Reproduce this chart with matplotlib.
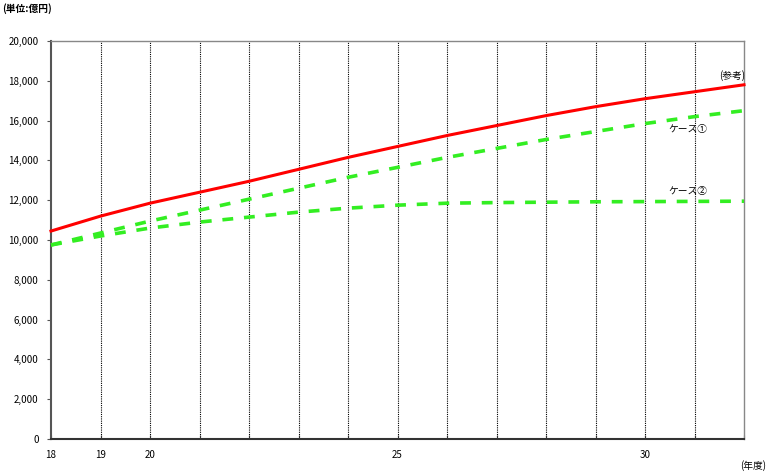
import matplotlib
matplotlib.use("Agg")
import matplotlib.pyplot as plt
from matplotlib.ticker import FuncFormatter, FixedLocator

plt.rcParams['font.family'] = ['Noto Sans CJK JP', 'DejaVu Sans']

years = list(range(18, 33))
reference = [10450, 11200, 11850, 12400, 12950, 13550, 14150, 14700, 15250,
             15750, 16250, 16700, 17100, 17450, 17800]
case1 = [9750, 10350, 10950, 11500, 12050, 12600, 13150, 13650, 14150,
         14600, 15050, 15450, 15850, 16200, 16500]
case2 = [9750, 10200, 10600, 10900, 11150, 11400, 11600, 11750, 11850,
         11880, 11900, 11920, 11930, 11940, 11950]
xtick_labels = {18: "18", 19: "19", 20: "20", 25: "25", 30: "30"}

fig = plt.figure(figsize=(7.69, 4.74), dpi=100)
ax = fig.add_axes([51/769, 1-439/474, (744-51)/769, (439-41)/474])

ax.set_xlim(18, 32)
ax.set_ylim(0, 20000)

for yr in years[1:-1]:
    ax.axvline(yr, color='black', linestyle=(0, (1, 1)), linewidth=0.8, zorder=1)

ax.plot(years, reference, color='#FF0000', linewidth=2.2, zorder=3, clip_on=False)
ax.plot(years, case1, color='#33EE22', linewidth=2.6, linestyle=(0, (3, 3)), zorder=3, clip_on=False)
ax.plot(years, case2, color='#33EE22', linewidth=2.6, linestyle=(0, (3, 3)), zorder=3, clip_on=False)

ax.yaxis.set_major_locator(FixedLocator(range(0, 20001, 2000)))
ax.yaxis.set_major_formatter(FuncFormatter(lambda v, p: f"{int(v):,}"))
ax.xaxis.set_major_locator(FixedLocator(years))
ax.set_xticklabels([xtick_labels.get(y, "") for y in years])

ax.tick_params(axis='y', direction='out', length=3, width=0.8, labelsize=7, pad=6, color='#555555')
ax.tick_params(axis='x', direction='in', length=3, width=0.8, labelsize=7, pad=8, color='#333333')

ax.spines['left'].set_color('#555555')
ax.spines['left'].set_linewidth(1.5)
ax.spines['bottom'].set_color('#333333')
ax.spines['bottom'].set_linewidth(1.5)
ax.spines['top'].set_color('#888888')
ax.spines['top'].set_linewidth(1.0)
ax.spines['right'].set_color('#888888')
ax.spines['right'].set_linewidth(1.0)

fig.text(2/769, 1-9/474, "(単位:億円)", fontsize=7, fontweight='bold', va='center', ha='left')
fig.text(766/769, 1-466/474, "(年度)", fontsize=7, va='center', ha='right')
fig.text(745/769, 1-76/474, "(参考)", fontsize=7, va='center', ha='right')
fig.text(668/769, 1-129/474, "ケース①", fontsize=7, va='center', ha='left')
fig.text(668/769, 1-191/474, "ケース②", fontsize=7, va='center', ha='left')

fig.savefig("out.png", dpi=100)
